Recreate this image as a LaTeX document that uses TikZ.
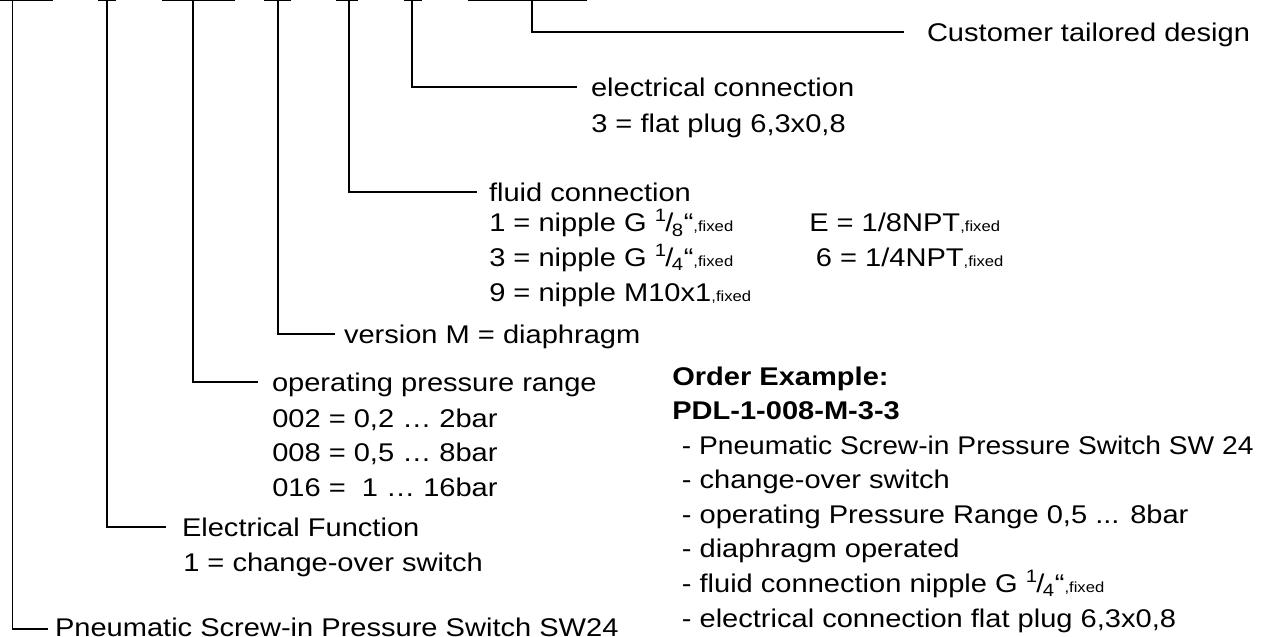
\documentclass[tikz,border=0pt]{standalone}
\usepackage{fontspec}
\usepackage{graphicx}
\setmainfont[FakeStretch=1.135]{Liberation Sans}

\newcommand\frc[2]{\textsuperscript{#1}\kern-.06em/\kern-.06em\textsubscript{#2}}
\newcommand\fxd{{\fontsize{11pt}{11pt}\selectfont,fixed}}

\begin{document}
\begin{tikzpicture}[x=0.75pt,y=0.75pt,yscale=-1,xscale=1,
  font=\fontsize{19.2pt}{25.9pt}\selectfont,
  bar/.style={line width=1.1pt},
  head/.style={anchor=west,inner ysep=0pt,outer sep=0pt,text height=13.8pt,text depth=0pt},
  sub/.style={anchor=base west,inner sep=0pt,align=left}]
\path[use as bounding box] (0,0) rectangle (1263,636);

%Top bars (type code underlines)
\draw [bar] (0,0.5) -- (53,0.5) (98,0.5) -- (116,0.5) (162,0.5) -- (235,0.5) (264,0.5) -- (291,0.5) (336,0.5) -- (358,0.5) (404,0.5) -- (422,0.5) (468,0.5) -- (587,0.5) ;
\coordinate (t1) at (12.5,0.5);
\coordinate (t2) at (107,0.5);
\coordinate (t3) at (193,0.5);
\coordinate (t4) at (278,0.5);
\coordinate (t5) at (349,0.5);
\coordinate (t6) at (412,0.5);
\coordinate (t7) at (532,0.5);

% Text Node
\node [head,inner xsep=17.25pt] (cust) at (904,32) {Customer tailored design};
% Text Node
\node [head,inner xsep=10.5pt] (elec) at (577,87) {electrical connection};
\node [sub] (elecval) at (591,132.5) {3 = flat plug 6,3x0,8};
% Text Node (base is the last line)
\node [head,inner xsep=9pt] (fluid) at (477,192) {fluid connection};
\node [sub] (fluidval) at (489,301) {\makebox[240pt][l]{1 = nipple G \frc18“\fxd}E = 1/8NPT\fxd\\
  \makebox[245pt][l]{3 = nipple G \frc14“\fxd}6 = 1/4NPT\fxd\\
  9 = nipple M10x1\fxd};
% Text Node
\node [head,inner xsep=6.75pt] (vers) at (335,334) {version M = diaphragm};
% Text Node
\node [head,inner xsep=10.5pt] (press) at (258,382) {operating pressure range};
\node [sub] (pressval) at (272,496.5) {002 = 0,2 … 2bar\\008 = 0,5 … 8bar\\016 = \ 1 … 16bar};
% Text Node
\node [head,inner xsep=12pt] (func) at (166,527) {Electrical Function};
\node [sub] (funcval) at (183,571.7) {1 = change-over switch};
% Text Node
\node [head,inner xsep=5.25pt,text height=11pt] (sw) at (48,629) {Pneumatic Screw-in Pressure Switch SW24};

% Order example
\node [sub] (order) at (672,627) {\textbf{Order Example:}\\
  \textbf{PDL-1-008-M-3-3}\\
  \hspace*{7.2pt}\scalebox{0.97}[1]{- Pneumatic Screw-in Pressure Switch SW 24}\\
  \hspace*{7.2pt}- change-over switch\\
  \hspace*{7.2pt}- operating Pressure Range 0,5 ... 8bar\\
  \hspace*{7.2pt}- diaphragm operated\\
  \hspace*{7.2pt}- fluid connection nipple G \frc14“\fxd\\
  \hspace*{7.2pt}- electrical connection flat plug 6,3x0,8};

%Straight Lines
\draw [bar] (t7) |- (cust);
\draw [bar] (t6) |- (elec);
\draw [bar] (t5) |- (fluid);
\draw [bar] (t4) |- (vers);
\draw [bar] (t3) |- (press);
\draw [bar] (t2) |- (func);
\draw [bar] (t1) |- (sw);

\end{tikzpicture}
\end{document}
